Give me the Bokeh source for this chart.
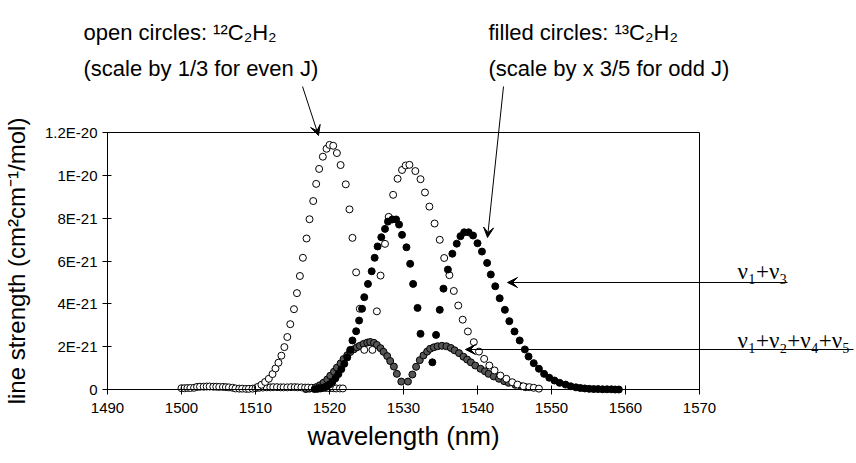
from bokeh.plotting import figure
from bokeh.models import FixedTicker, Label, Arrow, VeeHead, Range1d, BoxAnnotation
from bokeh.embed import file_html
from bokeh.resources import INLINE

# ---------------- data (line strength in units of 1E-21 cm^2 cm^-1 / mol) ----------------
c12_base_wl = [1500.0, 1500.4, 1500.8, 1501.2, 1501.7, 1502.1, 1502.5, 1503.0, 1503.4, 1503.8,
               1504.3, 1504.7, 1505.1, 1505.6, 1506.0, 1506.4, 1506.9, 1507.3, 1507.8, 1508.2,
               1508.7, 1509.1, 1509.6, 1510.0, 1510.5, 1511.0, 1511.5, 1512.0, 1512.4, 1512.9,
               1513.4, 1513.8, 1514.3, 1514.8, 1515.3, 1515.7, 1516.2, 1516.7, 1517.1, 1517.6,
               1518.1, 1518.6, 1519.0, 1519.5, 1520.0, 1520.5, 1520.9, 1521.4, 1521.8]
c12_base_s = [0.06, 0.06, 0.07, 0.07, 0.08, 0.12, 0.13, 0.13, 0.14, 0.14,
              0.13, 0.13, 0.12, 0.12, 0.11, 0.10, 0.08, 0.05, 0.04, 0.04,
              0.03, 0.03, 0.04, 0.06, 0.08, 0.09, 0.10, 0.10, 0.11, 0.11,
              0.10, 0.10, 0.10, 0.11, 0.11, 0.10, 0.10, 0.09, 0.09, 0.08,
              0.08, 0.08, 0.07, 0.07, 0.06, 0.06, 0.05, 0.05, 0.05]
c12_band_wl = [1510.3, 1510.8, 1511.3, 1511.8, 1512.3, 1512.7, 1513.1, 1513.5, 1513.9, 1514.3,
               1514.7, 1515.2, 1515.6, 1516.0, 1516.4, 1516.9, 1517.3, 1517.8, 1518.2, 1518.6,
               1519.1, 1519.6, 1520.0, 1520.5, 1521.0, 1521.5, 1522.2, 1522.7, 1523.1, 1523.6,
               1524.1, 1524.7, 1525.8, 1526.4, 1526.9, 1527.5, 1528.0, 1528.6, 1529.2, 1529.8,
               1530.3, 1530.8, 1531.6, 1532.3, 1532.9, 1533.5, 1534.2, 1534.9, 1535.5, 1536.2,
               1536.8, 1537.4, 1538.0, 1538.7, 1539.5, 1540.2, 1540.9, 1541.6, 1542.3, 1543.1,
               1543.9, 1544.7, 1545.4, 1546.2, 1547.0, 1547.6, 1548.3]
c12_band_s = [0.12, 0.22, 0.35, 0.50, 0.72, 0.98, 1.25, 1.58, 1.98, 2.45,
              3.05, 3.75, 4.50, 5.30, 6.15, 7.05, 7.95, 8.80, 9.60, 10.30,
              10.87, 11.24, 11.42, 11.38, 11.04, 10.48, 9.58, 8.41, 7.08, 5.47,
              3.77, 1.85, 1.85, 3.65, 5.32, 6.80, 8.06, 9.09, 9.84, 10.25,
              10.46, 10.49, 10.20, 9.82, 9.20, 8.54, 7.75, 6.99, 6.14, 5.34,
              4.60, 3.92, 3.26, 2.71, 2.21, 1.77, 1.43, 1.12, 0.89, 0.65,
              0.50, 0.34, 0.23, 0.15, 0.11, 0.08, 0.04]
c13_wl = [1518.0, 1518.4, 1518.8, 1519.2, 1519.6, 1520.0, 1520.4, 1520.8, 1521.2, 1521.6,
          1522.0, 1522.4, 1522.8, 1523.1, 1523.6, 1524.0, 1524.4, 1524.7, 1525.2, 1525.7,
          1526.1, 1526.5, 1527.0, 1527.5, 1527.9, 1528.5, 1529.0, 1529.4, 1529.8, 1530.4,
          1530.9, 1531.3, 1531.9, 1532.3, 1533.9, 1534.4, 1534.9, 1535.4, 1536.0, 1536.6,
          1537.2, 1537.7, 1538.2, 1538.8, 1539.4, 1540.0, 1540.6, 1541.3, 1541.8, 1542.4,
          1543.0, 1543.7, 1544.3, 1545.0, 1545.7, 1546.4, 1546.9, 1547.6, 1548.3, 1549.0,
          1549.7, 1550.4, 1551.1, 1551.9, 1552.6, 1553.3, 1553.9, 1554.5, 1555.1, 1555.7,
          1556.3, 1556.9, 1557.5, 1558.1, 1558.6, 1559.1]
c13_s = [0.02, 0.03, 0.05, 0.09, 0.15, 0.24, 0.36, 0.52, 0.72, 0.95,
         1.20, 1.50, 1.85, 2.29, 2.72, 3.22, 3.77, 4.31, 4.93, 5.52,
         6.15, 6.68, 7.11, 7.50, 7.84, 7.94, 7.94, 7.70, 7.22, 6.64,
         5.87, 4.93, 3.81, 2.60, 1.27, 2.55, 3.72, 4.71, 5.60, 6.34,
         6.81, 7.16, 7.34, 7.34, 7.19, 6.83, 6.44, 5.91, 5.37, 4.82,
         4.26, 3.72, 3.19, 2.71, 2.29, 1.87, 1.54, 1.23, 0.97, 0.73,
         0.55, 0.42, 0.31, 0.23, 0.15, 0.10, 0.07, 0.05, 0.03, 0.02,
         0.02, 0.01, 0.01, 0.01, 0.0, 0.0]
comb_wl = [1516.8, 1517.3, 1517.7, 1518.2, 1518.7, 1519.2, 1519.7, 1520.1, 1520.6, 1521.0,
           1521.5, 1521.9, 1522.4, 1522.8, 1523.3, 1523.7, 1524.1, 1524.6, 1525.1, 1525.5,
           1526.0, 1526.4, 1526.9, 1527.3, 1527.8, 1528.2, 1528.7, 1529.1, 1529.7, 1530.6,
           1531.2, 1531.7, 1532.2, 1532.7, 1533.2, 1533.6, 1534.1, 1534.6, 1535.2, 1535.8,
           1536.4, 1536.9, 1537.5, 1538.1, 1538.6, 1539.1, 1539.7, 1540.4, 1541.0, 1541.5,
           1542.2, 1542.9, 1543.6, 1544.2, 1545.1, 1545.9, 1546.5]
comb_s = [0.02, 0.04, 0.06, 0.11, 0.20, 0.32, 0.47, 0.64, 0.83, 1.02,
          1.22, 1.42, 1.60, 1.75, 1.88, 1.97, 2.04, 2.13, 2.19, 2.22,
          2.18, 2.08, 1.93, 1.76, 1.56, 1.33, 1.07, 0.73, 0.37, 0.37,
          0.70, 1.06, 1.37, 1.59, 1.77, 1.90, 1.97, 2.02, 2.04, 2.02,
          1.94, 1.83, 1.70, 1.53, 1.40, 1.27, 1.12, 0.97, 0.85, 0.73,
          0.61, 0.50, 0.39, 0.31, 0.22, 0.15, 0.11]

x_ticks = [1490, 1500, 1510, 1520, 1530, 1540, 1550, 1560, 1570]
y_ticks = [0, 2, 4, 6, 8, 10, 12]
y_tick_labels = ["0", "2E-21", "4E-21", "6E-21", "8E-21", "1E-20", "1.2E-20"]

SANS = "Liberation Sans"
SERIF = "Liberation Serif"

# ---------------- layout: the frame fills the canvas, the plot box sits inside it ----------------
W, H = 856, 463
BOX_L, BOX_R, BOX_T, BOX_B = 107, 699, 132, 389          # pixel edges of the plot box
X0, X1, Y0, Y1 = x_ticks[0], x_ticks[-1], y_ticks[0], y_ticks[-1]
xpp = (X1 - X0) / (BOX_R - BOX_L)
ypp = (Y1 - Y0) / (BOX_B - BOX_T)
x_range = Range1d(X0 - BOX_L * xpp, X1 + (W - BOX_R) * xpp)
y_range = Range1d(Y0 - (H - BOX_B) * ypp, Y1 + BOX_T * ypp)

p = figure(width=W, height=H, output_backend="svg", toolbar_location=None,
           x_range=x_range, y_range=y_range, title=None,
           min_border=0, min_border_left=0, min_border_right=0,
           min_border_top=0, min_border_bottom=0)
p.background_fill_color = "white"
p.border_fill_color = "white"
p.outline_line_color = None
p.grid.visible = False

for ax in (p.xaxis[0], p.yaxis[0]):
    ax.axis_line_color = "black"
    ax.major_tick_line_color = "black"
    ax.major_tick_in = 4
    ax.major_tick_out = 5
    ax.minor_tick_in = 0
    ax.minor_tick_out = 0
    ax.major_label_text_font = SANS
    ax.major_label_text_font_size = "15px"
    ax.major_label_text_color = "black"
    ax.axis_label_text_font = SANS
    ax.axis_label_text_font_style = "normal"
    ax.axis_label_text_color = "black"

p.xaxis.fixed_location = Y0
p.xaxis.bounds = (X0, X1)
p.xaxis.ticker = FixedTicker(ticks=x_ticks)
p.xaxis.major_label_standoff = 8
p.xaxis.axis_label = "wavelength (nm)"
p.xaxis.axis_label_text_font_size = "26px"
p.xaxis.axis_label_standoff = 5

p.yaxis.fixed_location = X0
p.yaxis.bounds = (Y0, Y1)
p.yaxis.ticker = FixedTicker(ticks=y_ticks)
p.yaxis.major_label_overrides = {t: lab for t, lab in zip(y_ticks, y_tick_labels)}
p.yaxis.major_label_standoff = 5
p.yaxis.axis_label = "line strength (cm²cm⁻¹/mol)"
p.yaxis.axis_label_text_font_size = "24px"
p.yaxis.axis_label_standoff = 12

# plot-box outline (top and right edges)
p.add_layout(BoxAnnotation(left=X0, right=X1, bottom=Y0, top=Y1, fill_alpha=0,
                           fill_color=None, line_color="black", line_alpha=1.0, line_width=1))

p.scatter(comb_wl, comb_s, marker="circle", size=7, fill_color="#555555",
          line_color="black", line_width=1)
p.scatter(c12_base_wl + c12_band_wl, c12_base_s + c12_band_s, marker="circle", size=7,
          fill_color="white", line_color="black", line_width=1)
p.scatter(c13_wl, c13_s, marker="circle", size=7, fill_color="black",
          line_color="black", line_width=1)

# annotations in canvas pixels
def lab(x, y, text, font=SANS, size="22px"):
    p.add_layout(Label(x=x, y=y, x_units="canvas", y_units="canvas", text=text,
                       text_font=font, text_font_size=size, text_color="black",
                       text_baseline="alphabetic", text_align="left"))

lab(83, 32, "open circles: ¹²C₂H₂")
lab(83, 68, "(scale by 1/3 for even J)")
lab(488, 32, "filled circles: ¹³C₂H₂")
lab(488, 68, "(scale by x 3/5 for odd J)")
lab(737, 271, "ν₁+ν₃", font=SERIF, size="23px")
lab(737, 340, "ν₁+ν₂+ν₄+ν₅", font=SERIF, size="23px")

def arrow(x0, y0, x1, y1):
    p.add_layout(Arrow(x_start=x0, y_start=y0, x_end=x1, y_end=y1,
                       start_units="canvas", end_units="canvas",
                       line_color="black", line_width=1,
                       end=VeeHead(size=10, fill_color="black", line_color="black")))

arrow(302, 86, 318, 135)
arrow(503, 86, 487, 237)
arrow(787, 282, 507, 282)
arrow(853, 349, 465, 349)

open("out.html", "w").write(file_html(p, INLINE))
